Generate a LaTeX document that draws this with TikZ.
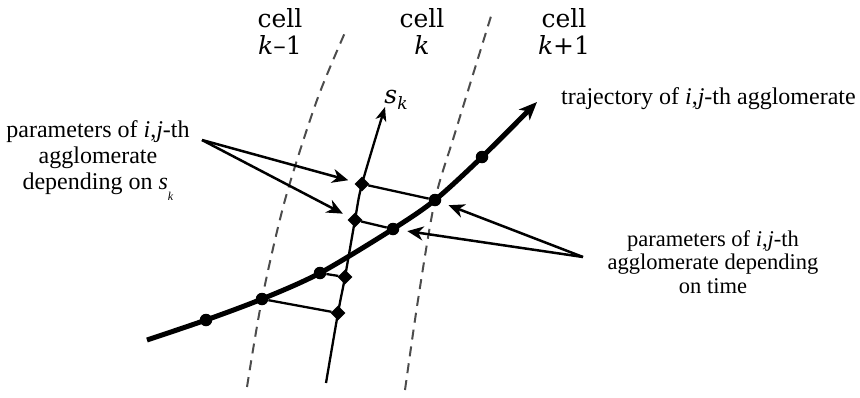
\documentclass[tikz,border=0pt]{standalone}
\usepackage{fontspec}
\setmainfont{Liberation Serif}
\newfontfamily\cellfont{DejaVu Serif}
\usetikzlibrary{arrows.meta,shapes.geometric}
\begin{document}
\begin{tikzpicture}[x=1pt,y=-1pt,
  traj/.style={line width=5pt},
  thinline/.style={line width=2.3pt},
  cellline/.style={line width=2pt, dash pattern=on 10pt off 7pt, black!70},
  dotnode/.style={circle, fill=black, inner sep=0pt, minimum size=12.5pt},
  dianode/.style={diamond, fill=black, inner sep=0pt, minimum size=15pt},
  pointer/.style={line width=2.5pt, shorten >=8pt, -{Stealth[length=16pt,width=14pt,inset=5pt]}},
  celllabel/.style={font=\cellfont\fontsize{25}{27}\selectfont, align=center, inner sep=0pt},
  leftlabel/.style={font=\fontsize{24}{26}\selectfont, align=center, inner sep=0pt},
  rightlabel/.style={font=\fontsize{22.5}{23.5}\selectfont, align=center, inner sep=0pt},
  trajlabel/.style={font=\fontsize{24}{26}\selectfont, inner sep=0pt, anchor=base west}
]
\useasboundingbox (0,0) rectangle (860,397);

% cell boundaries
\draw[cellline] plot[smooth] coordinates {(247,387) (262,299) (285,200) (317,100) (347,28)};
\draw[cellline] plot[smooth] coordinates {(405,390) (418,300) (435,200) (455,133) (492,13)};

% points
\coordinate (t0) at (147,340);
\coordinate (tend) at (537,102);
\coordinate (p1) at (206,320);
\coordinate (p2) at (262,299);
\coordinate (p3) at (320,273);
\coordinate (p4) at (393,229);
\coordinate (p5) at (435,200);
\coordinate (p6) at (482,157);
\coordinate (a0) at (326,383);
\coordinate (q1) at (338,313);
\coordinate (q2) at (345,277);
\coordinate (q3) at (355,220);
\coordinate (q4) at (362,184);
\coordinate (atip) at (385,107);
\coordinate (lsrc) at (202,140);
\coordinate (rsrc) at (583,257);

% s_k axis
\draw[thinline, -{Stealth[length=14pt,width=11pt,inset=4pt]}]
  plot[smooth] coordinates {(a0) (q1) (q2) (q3) (q4) (atip)};

% trajectory
\draw[traj, -{Stealth[length=18pt,width=15pt,inset=5pt]}]
  plot[smooth] coordinates {(t0) (p1) (p2) (p3) (p4) (p5) (p6) (tend)};

% nodes on curves
\foreach \n in {p1,p2,p3,p4,p5,p6} \node[dotnode] (n\n) at (\n) {};
\foreach \n in {q1,q2,q3,q4} \node[dianode] (n\n) at (\n) {};

% links between trajectory points and axis points
\draw[thinline] (nq4) -- (np5);
\draw[thinline] (nq3) -- (np4);
\draw[thinline] (np3) -- (nq2);
\draw[thinline] (np2) -- (nq1);

% pointers
\draw[pointer] (lsrc) -- (nq4);
\draw[pointer] (lsrc) -- (nq3);
\draw[pointer] (rsrc) -- (np5);
\draw[pointer] (rsrc) -- (np4);

% labels
\node[celllabel] (c1) at (280,31.5) {cell\\\textit{k}–1};
\node[celllabel] (c2) at (422,31.5) {cell\\\textit{k}};
\node[celllabel] (c3) at (564,31.5) {cell\\\textit{k}+1};
\node[inner sep=0pt, font=\cellfont\fontsize{25}{25}\selectfont] (sk) at (396,100)
  {\textit{s}\raisebox{-0.25em}{\fontsize{17}{17}\selectfont\textit{k}}};
\node[leftlabel] (ltext) at (98,160.5)
  {parameters of \textit{i},\textit{j}-th\\agglomerate\\depending on \textit{s}\raisebox{-0.45em}{\fontsize{12}{12}\selectfont\textit{k}}};
\node[rightlabel] (rtext) at (713,262)
  {parameters of \textit{i},\textit{j}-th\\agglomerate depending\\on time};
\node[trajlabel] (tlabel) at (561,104) {trajectory of \textit{i},\textit{j}-th agglomerate};
\end{tikzpicture}
\end{document}
